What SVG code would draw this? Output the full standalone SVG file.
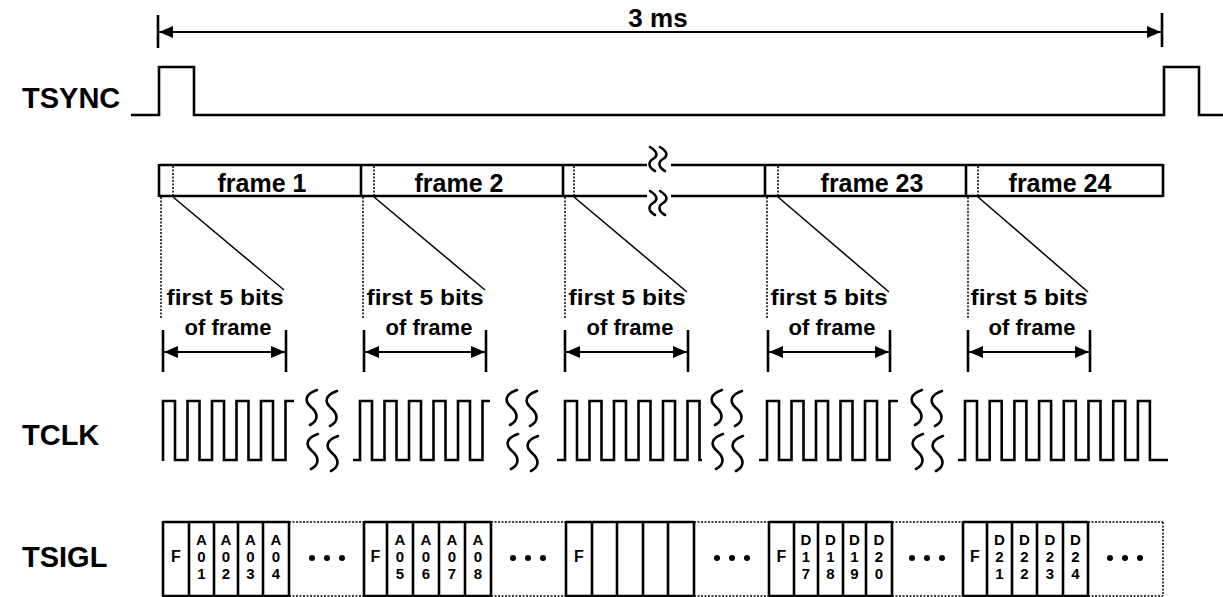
<svg xmlns="http://www.w3.org/2000/svg" xmlns:xlink="http://www.w3.org/1999/xlink" width="1223" height="597" viewBox="0 0 1223 597">
<style>
text{font-family:"Liberation Sans",Arial,sans-serif;font-weight:bold;fill:#000}
.lbl{font-size:29px}
.fr{font-size:25px;text-anchor:middle}
.fb{font-size:22px;text-anchor:middle}
.c{font-size:15px;text-anchor:middle}
.w{fill:none;stroke:#000;stroke-width:2.6;stroke-linejoin:miter}
.t{fill:none;stroke:#000;stroke-width:2.6}
.d{fill:none;stroke:#000;stroke-width:1.5;stroke-dasharray:2 1.5}
.dg{fill:none;stroke:#000;stroke-width:1.5}
.sq{fill:none;stroke:#000;stroke-width:2.6;stroke-linecap:round}
.dot{fill:#000}
</style>
<defs>
<marker id="ah" viewBox="0 0 14 12" refX="14" refY="6" markerWidth="14" markerHeight="12" markerUnits="userSpaceOnUse" orient="auto-start-reverse">
<path d="M0,0 L14,6 L0,12 Z" fill="#000"/>
</marker>
<path id="s" class="sq" d="M12,0 C0,4 -1,11 6,17 C13,23 14,30 5,35"/>
<path id="b" class="sq" d="M0,0 C8,5 8,9 3,12 C-2,15 -2,20 5,24"/>
</defs>
<rect width="1223" height="597" fill="#fff"/>

<g id="labels">
<text class="lbl" x="22" y="108">TSYNC</text>
<text class="lbl" x="22" y="445">TCLK</text>
<text class="lbl" x="22" y="567">TSIGL</text>
</g>

<g id="period-3ms">
<line class="t" x1="158" y1="15" x2="158" y2="48"/>
<line class="t" x1="1162" y1="13" x2="1162" y2="47"/>
<line x1="159" y1="32" x2="1161" y2="32" stroke="#000" stroke-width="2" marker-start="url(#ah)" marker-end="url(#ah)"/>
<text x="658" y="27" style="font-size:26px;text-anchor:middle">3 ms</text>
</g>

<g id="tsync">
<path class="w" d="M131,115 H159 V67 H194 V115 H1164 V67 H1199 V115 H1223"/>
</g>

<g id="frame-bar">
<path class="t" d="M159,165 H647 M671,165 H1163 M159,196 H647 M671,196 H1163"/>
<use href="#b" x="650" y="147"/>
<use href="#b" x="660" y="147"/>
<use href="#b" x="650" y="191"/>
<use href="#b" x="660" y="191"/>
</g>
<g id="frame-1">
<path class="t" d="M159,164 V197 M361,164 V197"/>
<line class="d" x1="173" y1="166" x2="173" y2="195"/>
<text class="fr" x="262" y="192">frame 1</text>
</g>
<g id="frame-2">
<line class="d" x1="374" y1="166" x2="374" y2="195"/>
<text class="fr" x="459" y="192">frame 2</text>
</g>
<g id="frame-n">
<path class="t" d="M563,164 V197"/>
<line class="d" x1="574" y1="166" x2="574" y2="195"/>
</g>
<g id="frame-23">
<path class="t" d="M765,164 V197"/>
<line class="d" x1="778" y1="166" x2="778" y2="195"/>
<text class="fr" x="872" y="192">frame 23</text>
</g>
<g id="frame-24">
<path class="t" d="M966,164 V197 M1163,164 V197"/>
<line class="d" x1="978" y1="166" x2="978" y2="195"/>
<text class="fr" x="1060" y="192">frame 24</text>
</g>

<g id="connectors">
<path class="d" d="M161,197 V318 M363,197 V318 M565,197 V318 M767,197 V318 M968,197 V318"/>
<path class="dg" d="M173,197 L284,290 M374,197 L485,290 M574,197 L687,292 M778,197 L889,292 M978,197 L1088,292"/>
</g>

<g id="first-bits-1">
<text class="fb" x="225" y="305" textLength="117" lengthAdjust="spacingAndGlyphs">first 5 bits</text>
<text class="fb" x="228" y="335">of frame</text>
<path class="t" d="M163,330 V372 M286,330 V372"/>
<line x1="164" y1="352" x2="285" y2="352" stroke="#000" stroke-width="2" marker-start="url(#ah)" marker-end="url(#ah)"/>
</g>
<g id="first-bits-2">
<text class="fb" x="425" y="305" textLength="117" lengthAdjust="spacingAndGlyphs">first 5 bits</text>
<text class="fb" x="429" y="335">of frame</text>
<path class="t" d="M364,330 V372 M486,330 V372"/>
<line x1="365" y1="352" x2="485" y2="352" stroke="#000" stroke-width="2" marker-start="url(#ah)" marker-end="url(#ah)"/>
</g>
<g id="first-bits-3">
<text class="fb" x="627" y="305" textLength="117" lengthAdjust="spacingAndGlyphs">first 5 bits</text>
<text class="fb" x="630" y="335">of frame</text>
<path class="t" d="M565,330 V372 M688,330 V372"/>
<line x1="566" y1="352" x2="687" y2="352" stroke="#000" stroke-width="2" marker-start="url(#ah)" marker-end="url(#ah)"/>
</g>
<g id="first-bits-4">
<text class="fb" x="829" y="305" textLength="117" lengthAdjust="spacingAndGlyphs">first 5 bits</text>
<text class="fb" x="832" y="335">of frame</text>
<path class="t" d="M768,330 V372 M890,330 V372"/>
<line x1="769" y1="352" x2="889" y2="352" stroke="#000" stroke-width="2" marker-start="url(#ah)" marker-end="url(#ah)"/>
</g>
<g id="first-bits-5">
<text class="fb" x="1029" y="305" textLength="117" lengthAdjust="spacingAndGlyphs">first 5 bits</text>
<text class="fb" x="1032" y="335">of frame</text>
<path class="t" d="M968,330 V372 M1090,330 V372"/>
<line x1="969" y1="352" x2="1089" y2="352" stroke="#000" stroke-width="2" marker-start="url(#ah)" marker-end="url(#ah)"/>
</g>

<g id="tclk">
<path class="w" d="M163,461 V401 H175 V460 H187.5 V401 H199.5 V460 H212 V401 H224 V460 H236.5 V401 H248.5 V460 H261 V401 H273 V460 H285.5 V401 H294"/>
<path class="w" d="M353,460 H360 V401 H372 V460 H384.5 V401 H396.5 V460 H409 V401 H421 V460 H433.5 V401 H445.5 V460 H458 V401 H470 V460 H482.5 V401 H490"/>
<path class="w" d="M557,460 H565 V401 H577 V460 H589.5 V401 H601.5 V460 H614 V401 H626 V460 H638.5 V401 H650.5 V460 H663 V401 H675 V460 H687.5 V401 H699.5 V460 H702"/>
<path class="w" d="M759,460 H767 V401 H779 V460 H791.5 V401 H803.5 V460 H816 V401 H828 V460 H840.5 V401 H852.5 V460 H865 V401 H877 V460 H889.5 V401 H898"/>
<path class="w" d="M958,460 H965 V401 H977 V460 H989.7 V401 H1001.7 V460 H1014.4 V401 H1026.4 V460 H1039.1 V401 H1051.1 V460 H1063.8 V401 H1075.8 V460 H1088.5 V401 H1100.5 V460 H1113.2 V401 H1125.2 V460 H1137.9 V401 H1149.9 V460 H1168"/>
<use href="#s" x="305" y="390"/><use href="#s" x="325" y="391"/><use href="#s" x="306" y="434"/><use href="#s" x="326" y="436"/>
<use href="#s" x="505" y="390"/><use href="#s" x="525" y="391"/><use href="#s" x="506" y="434"/><use href="#s" x="526" y="436"/>
<use href="#s" x="710" y="390"/><use href="#s" x="730" y="391"/><use href="#s" x="711" y="434"/><use href="#s" x="731" y="436"/>
<use href="#s" x="910" y="390"/><use href="#s" x="930" y="391"/><use href="#s" x="911" y="434"/><use href="#s" x="931" y="436"/>
</g>

<g id="tsigl-1">
<path class="t" d="M163,522 H289 M163,596 H289 M163,521 V597 M189,521 V597 M214,521 V597 M238,521 V597 M263,521 V597 M289,521 V597"/>
<path class="d" d="M289,522 H364 M289,596 H364"/>
<text class="c" x="176" y="562" style="font-size:16px">F</text>
<text class="c"><tspan x="201.5" y="545">A</tspan><tspan x="201.5" y="562">0</tspan><tspan x="201.5" y="579">1</tspan></text>
<text class="c"><tspan x="226" y="545">A</tspan><tspan x="226" y="562">0</tspan><tspan x="226" y="579">2</tspan></text>
<text class="c"><tspan x="250.5" y="545">A</tspan><tspan x="250.5" y="562">0</tspan><tspan x="250.5" y="579">3</tspan></text>
<text class="c"><tspan x="276" y="545">A</tspan><tspan x="276" y="562">0</tspan><tspan x="276" y="579">4</tspan></text>
<circle class="dot" cx="312" cy="558" r="3"/><circle class="dot" cx="327" cy="558" r="3"/><circle class="dot" cx="342" cy="558" r="3"/>
</g>
<g id="tsigl-2">
<path class="t" d="M364,522 H491 M364,596 H491 M364,521 V597 M387,521 V597 M413,521 V597 M439,521 V597 M465,521 V597 M491,521 V597"/>
<path class="d" d="M491,522 H566 M491,596 H566"/>
<text class="c" x="375.5" y="562" style="font-size:16px">F</text>
<text class="c"><tspan x="400" y="545">A</tspan><tspan x="400" y="562">0</tspan><tspan x="400" y="579">5</tspan></text>
<text class="c"><tspan x="426" y="545">A</tspan><tspan x="426" y="562">0</tspan><tspan x="426" y="579">6</tspan></text>
<text class="c"><tspan x="452" y="545">A</tspan><tspan x="452" y="562">0</tspan><tspan x="452" y="579">7</tspan></text>
<text class="c"><tspan x="478" y="545">A</tspan><tspan x="478" y="562">0</tspan><tspan x="478" y="579">8</tspan></text>
<circle class="dot" cx="513" cy="558" r="3"/><circle class="dot" cx="528" cy="558" r="3"/><circle class="dot" cx="543" cy="558" r="3"/>
</g>
<g id="tsigl-3">
<path class="t" d="M566,522 H694 M566,596 H694 M566,521 V597 M592,521 V597 M617,521 V597 M643,521 V597 M668,521 V597 M694,521 V597"/>
<path class="d" d="M694,522 H769 M694,596 H769"/>
<text class="c" x="579" y="562" style="font-size:16px">F</text>
<circle class="dot" cx="717" cy="558" r="3"/><circle class="dot" cx="732" cy="558" r="3"/><circle class="dot" cx="747" cy="558" r="3"/>
</g>
<g id="tsigl-4">
<path class="t" d="M769,522 H892 M769,596 H892 M769,521 V597 M794,521 V597 M818,521 V597 M843,521 V597 M866,521 V597 M892,521 V597"/>
<path class="d" d="M892,522 H963 M892,596 H963"/>
<text class="c" x="781.5" y="562" style="font-size:16px">F</text>
<text class="c"><tspan x="806" y="545">D</tspan><tspan x="806" y="562">1</tspan><tspan x="806" y="579">7</tspan></text>
<text class="c"><tspan x="830.5" y="545">D</tspan><tspan x="830.5" y="562">1</tspan><tspan x="830.5" y="579">8</tspan></text>
<text class="c"><tspan x="854.5" y="545">D</tspan><tspan x="854.5" y="562">1</tspan><tspan x="854.5" y="579">9</tspan></text>
<text class="c"><tspan x="879" y="545">D</tspan><tspan x="879" y="562">2</tspan><tspan x="879" y="579">0</tspan></text>
<circle class="dot" cx="912" cy="558" r="3"/><circle class="dot" cx="927" cy="558" r="3"/><circle class="dot" cx="942" cy="558" r="3"/>
</g>
<g id="tsigl-5">
<path class="t" d="M963,522 H1088 M963,596 H1088 M963,521 V597 M987,521 V597 M1012,521 V597 M1037,521 V597 M1063,521 V597 M1088,521 V597"/>
<path class="d" d="M1088,522 H1163 M1088,596 H1163 M1163,522 V596"/>
<text class="c" x="975" y="562" style="font-size:16px">F</text>
<text class="c"><tspan x="999.5" y="545">D</tspan><tspan x="999.5" y="562">2</tspan><tspan x="999.5" y="579">1</tspan></text>
<text class="c"><tspan x="1024.5" y="545">D</tspan><tspan x="1024.5" y="562">2</tspan><tspan x="1024.5" y="579">2</tspan></text>
<text class="c"><tspan x="1050" y="545">D</tspan><tspan x="1050" y="562">2</tspan><tspan x="1050" y="579">3</tspan></text>
<text class="c"><tspan x="1075.5" y="545">D</tspan><tspan x="1075.5" y="562">2</tspan><tspan x="1075.5" y="579">4</tspan></text>
<circle class="dot" cx="1110" cy="558" r="3"/><circle class="dot" cx="1125" cy="558" r="3"/><circle class="dot" cx="1140" cy="558" r="3"/>
</g>
</svg>
